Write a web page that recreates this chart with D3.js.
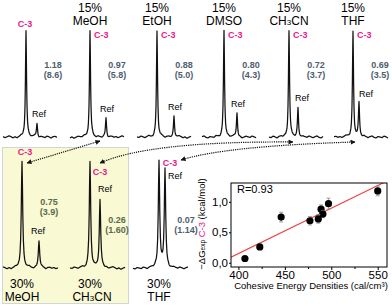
<!DOCTYPE html>
<html>
<head>
<meta charset="utf-8">
<title>C-3 vs Ref spectra</title>
<style>
  body { margin: 0; background: #fff; }
  svg { display: block; font-family: "Liberation Sans", Arial, sans-serif; }
  .lab { font-size: 12px; fill: #000; }
  .c3 { font-size: 9px; font-weight: bold; fill: #e8198b; }
  .ref { font-size: 9px; fill: #000; }
  .val { font-size: 9px; font-weight: bold; }
</style>
</head>
<body>
<svg id="fig" width="392" height="306"></svg>
<script src="https://cdn.jsdelivr.net/npm/d3@7"></script>
<script>
// top row: water, then 15% co-solvent
const topSolvents = ["", "MeOH", "EtOH", "DMSO", "CH3CN", "THF"];
const topDG = ["1.18", "0.97", "0.88", "0.80", "0.72", "0.69"];
const topK = ["8.6", "5.8", "5.0", "4.3", "3.7", "3.5"];
const topC3Shift = [23, 20, 20, 22, 20, 19];
const topRefShift = [34, 36, 37, 35, 29, 25];
const topRefInt = [0.13, 0.18, 0.20, 0.23, 0.28, 0.32];

// bottom row: 30% co-solvent
const botSolvents = ["MeOH", "CH3CN", "THF"];
const botDG = ["0.75", "0.26", "0.07"];
const botK = ["3.9", "1.60", "1.14"];
const botC3Shift = [19, 20, 26];
const botRefShift = [36, 30, 32];
const botRefInt = [0.26, 0.64, 0.93];

// half line shape of one peak + baseline wiggle
const profOff = [0, 0.3, 0.6, 1, 1.5, 2, 3, 4, 6, 9, 12];
const profInt = [1, 0.8, 0.5, 0.265, 0.138, 0.083, 0.038, 0.022, 0.01, 0.004, 0];
const wiggle = [0.004, -0.006, 0.002, 0.011, 0.003, -0.008, 0.001, -0.012, -0.002, 0.007,
                0.001, -0.004, 0.009, 0.002, -0.007, 0.003, 0.010, -0.003, -0.009, 0.004,
                0.000, -0.006, 0.008, 0.002, -0.010, 0.003, 0.006, -0.003];

// correlation plot
const ced = [550, 497, 489, 491, 486, 477, 446, 423, 407];
const dG = [1.18, 0.97, 0.88, 0.80, 0.72, 0.69, 0.75, 0.26, 0.07];
const dGerr = [0.08, 0.09, 0.07, 0.06, 0.07, 0.07, 0.08, 0.04, 0.03];
const cedTicks = [400, 450, 500, 550];
const cedMinor = [425, 475, 525];
const dGTicks = [0, 0.5, 1.0];

const svg = d3.select("#fig");
const pink = "#e8198b";

// yellow box behind the 30% MeOH / CH3CN panels
svg.append("rect")
  .attr("x", 2.5).attr("y", 147.5).attr("width", 126).attr("height", 156)
  .attr("fill", "#f9f9d3").attr("stroke", "#cfd5d9");

function solventText(g, name) {
  // CH3CN gets a small 3
  if (name === "CH3CN") {
    g.append("tspan").text("CH");
    g.append("tspan").attr("font-size", "8px").text("3");
    g.append("tspan").text("CN");
  } else g.text(name);
}

function drawSpectrum(left, width, base, c3, ref, refInt, lw, shift) {
  const x = d3.scaleLinear().domain([0, width]).range([left, left + width]);
  const y = d3.scaleLinear().domain([0, 1]).range([base, base - 106]);
  const prof = d3.scaleLinear().domain(profOff.map(o => o * lw)).range(profInt).clamp(true);
  const wig = d3.scaleLinear()
    .domain(wiggle.map((_, i) => i * width / (wiggle.length - 1)))
    .range(wiggle.map((_, i) => wiggle[(i + shift) % wiggle.length]));
  const pts = d3.range(0, width * 5 + 1).map(i => {
    const s = i / 5;
    return [s, wig(s) + prof(Math.abs(s - c3)) + refInt * prof(Math.abs(s - ref))];
  });
  svg.append("path")
    .attr("d", d3.line().x(d => x(d[0])).y(d => y(d[1]))(pts))
    .attr("fill", "none").attr("stroke", "#111").attr("stroke-width", 1.25)
    .attr("stroke-linejoin", "round");
  return { x, y };
}

// ---- top row
const topLeft = [3, 70, 137, 202, 269, 334];
const topAnchor = [];
topLeft.forEach((left, i) => {
  const s = drawSpectrum(left, 54, 137, topC3Shift[i], topRefShift[i], topRefInt[i], 1.05, i * 5);
  const mx = s.x(topC3Shift[i]), rx = s.x(topRefShift[i]);
  topAnchor.push({ mx, rx });
  if (topSolvents[i]) {
    svg.append("text").attr("class", "lab").attr("x", mx).attr("y", 12)
      .attr("text-anchor", "middle").text("15%");
    solventText(svg.append("text").attr("class", "lab").attr("x", mx).attr("y", 25)
      .attr("text-anchor", "middle"), topSolvents[i]);
    svg.append("text").attr("class", "c3").attr("x", mx + 4).attr("y", 38).text("C-3");
  } else {
    svg.append("text").attr("class", "c3").attr("x", mx - 1).attr("y", 27)
      .attr("text-anchor", "middle").text("C-3");
  }
  svg.append("text").attr("class", "ref").attr("text-anchor", "middle")
    .attr("x", Math.max(rx + 1, mx + 13)).attr("y", s.y(topRefInt[i]) - 6).text("Ref");
  const v = svg.append("g").attr("class", "val").attr("fill", "#4d5e70").attr("text-anchor", "middle");
  v.append("text").attr("x", mx + 27).attr("y", 68).text(topDG[i]);
  v.append("text").attr("x", mx + 27).attr("y", 78).text("(" + topK[i] + ")");
});

// ---- bottom row
const botLeft = [3, 70, 133];
const botC3Dx = [3, 10, 11], botC3Y = [155, 175, 166];
const botRefDx = [-1, 5, 10], botRefY = [234, 192, 179];
const botValY = [205, 223, 223];
const botValColor = ["#5a6b4e", "#5a6b4e", "#4d5e70"];
const botAnchor = [];
botLeft.forEach((left, i) => {
  const s = drawSpectrum(left, 55, 268, botC3Shift[i], botRefShift[i], botRefInt[i], 1.35, i * 7 + 3);
  const mx = s.x(botC3Shift[i]), rx = s.x(botRefShift[i]);
  botAnchor.push({ mx, rx });
  svg.append("text").attr("class", "lab").attr("x", mx).attr("y", 288)
    .attr("text-anchor", "middle").text("30%");
  solventText(svg.append("text").attr("class", "lab").attr("x", mx + (i === 1 ? 2 : 0)).attr("y", 301)
    .attr("text-anchor", "middle"), botSolvents[i]);
  svg.append("text").attr("class", "c3").attr("text-anchor", "middle")
    .attr("x", mx + botC3Dx[i]).attr("y", botC3Y[i]).text("C-3");
  svg.append("text").attr("class", "ref").attr("text-anchor", "middle")
    .attr("x", rx + botRefDx[i]).attr("y", botRefY[i]).text("Ref");
  const v = svg.append("g").attr("class", "val").attr("fill", botValColor[i]).attr("text-anchor", "middle");
  v.append("text").attr("x", mx + 27).attr("y", botValY[i]).text(botDG[i]);
  v.append("text").attr("x", mx + 27).attr("y", botValY[i] + 10).text("(" + botK[i] + ")");
});

// ---- dotted double-headed arrows linking 15% and 30% spectra
const defs = svg.append("defs");
defs.append("marker").attr("id", "ah").attr("viewBox", "0 0 10 10")
  .attr("refX", 9).attr("refY", 5).attr("markerWidth", 5).attr("markerHeight", 5)
  .attr("orient", "auto-start-reverse").attr("markerUnits", "userSpaceOnUse")
  .append("path").attr("d", "M0,0L10,5L0,10Z").attr("fill", "#111");

function arrow(p0, c, p1) {
  const p = d3.path();
  p.moveTo(p0[0], p0[1]);
  if (c) p.quadraticCurveTo(c[0], c[1], p1[0], p1[1]); else p.lineTo(p1[0], p1[1]);
  svg.append("path").attr("d", p.toString())
    .attr("fill", "none").attr("stroke", "#111").attr("stroke-width", 1.2)
    .attr("stroke-dasharray", "1.2,1").attr("marker-start", "url(#ah)").attr("marker-end", "url(#ah)");
}
arrow([topAnchor[1].rx - 6, 141], null, [botAnchor[0].mx + 5, 163]);
arrow([topAnchor[4].mx + 4, 142], [150, 141], [botAnchor[1].mx + 10, 163]);
arrow([topAnchor[5].mx + 2, 142], [225, 146], [botAnchor[2].mx + 22, 160]);

// ---- correlation plot
const sx = d3.scaleLinear().domain([392, 560]).range([231, 387]);
const sy = d3.scaleLinear().domain([-0.07, 1.31]).range([267, 183]);

svg.append("clipPath").attr("id", "plotclip").append("rect")
  .attr("x", 231).attr("y", 183).attr("width", 156).attr("height", 84);

const fmt = d => d3.format(".1f")(d).replace(".", ",");
const xAxis = svg.append("g").attr("transform", "translate(0,267)")
  .call(d3.axisBottom(sx).tickValues(cedTicks).tickSize(3).tickPadding(1));
const xMinor = svg.append("g").attr("transform", "translate(0,267)")
  .call(d3.axisBottom(sx).tickValues(cedMinor).tickSize(2).tickFormat(""));
const yAxis = svg.append("g").attr("transform", "translate(231,0)")
  .call(d3.axisLeft(sy).tickValues(dGTicks).tickSize(2).tickPadding(1).tickFormat(fmt));
[xAxis, xMinor, yAxis].forEach(g => {
  g.select(".domain").remove();
  g.attr("font-family", null).attr("font-size", null);
  g.selectAll("text").attr("font-size", "11.5px").attr("fill", "#000");
});

// regression line
const mx = d3.mean(ced), my = d3.mean(dG);
const slope = d3.sum(ced, (c, i) => (c - mx) * (dG[i] - my)) / d3.sum(ced, c => (c - mx) * (c - mx));
const fitX = sx.domain();
svg.append("line").attr("clip-path", "url(#plotclip)")
  .attr("x1", sx(fitX[0])).attr("y1", sy(my + slope * (fitX[0] - mx)))
  .attr("x2", sx(fitX[1])).attr("y2", sy(my + slope * (fitX[1] - mx)))
  .attr("stroke", "#f0413f").attr("stroke-width", 1.1);

// error bars + points
const pts = svg.append("g");
ced.forEach((c, i) => {
  const e = pts.append("g").attr("stroke", "#8c8c8c").attr("stroke-width", 0.8);
  e.append("line").attr("x1", sx(c)).attr("x2", sx(c)).attr("y1", sy(dG[i] - dGerr[i])).attr("y2", sy(dG[i] + dGerr[i]));
  [-1, 1].forEach(k => e.append("line").attr("x1", sx(c) - 2).attr("x2", sx(c) + 2)
    .attr("y1", sy(dG[i] + k * dGerr[i])).attr("y2", sy(dG[i] + k * dGerr[i])));
  pts.append("circle").attr("cx", sx(c)).attr("cy", sy(dG[i])).attr("r", 3.6).attr("fill", "#000");
});

svg.append("rect").attr("x", 231).attr("y", 183).attr("width", 156).attr("height", 84)
  .attr("fill", "none").attr("stroke", "#000").attr("stroke-width", 1);

svg.append("text").attr("x", 237).attr("y", 193).attr("font-size", "11px").text("R=0.93");

svg.append("text").attr("x", 311).attr("y", 289).attr("text-anchor", "middle")
  .attr("font-size", "9.5px").text("Cohesive Energy Densities (cal/cm³)");

const yl = svg.append("text").attr("transform", "translate(205,224) rotate(-90)")
  .attr("text-anchor", "middle").attr("font-size", "9.5px");
yl.append("tspan").text("\u2212\u0394G");
yl.append("tspan").attr("font-size", "6.5px").text("exp");
yl.append("tspan").attr("fill", pink).text(" C-3");
yl.append("tspan").text(" (kcal/mol)");
</script>
</body>
</html>
